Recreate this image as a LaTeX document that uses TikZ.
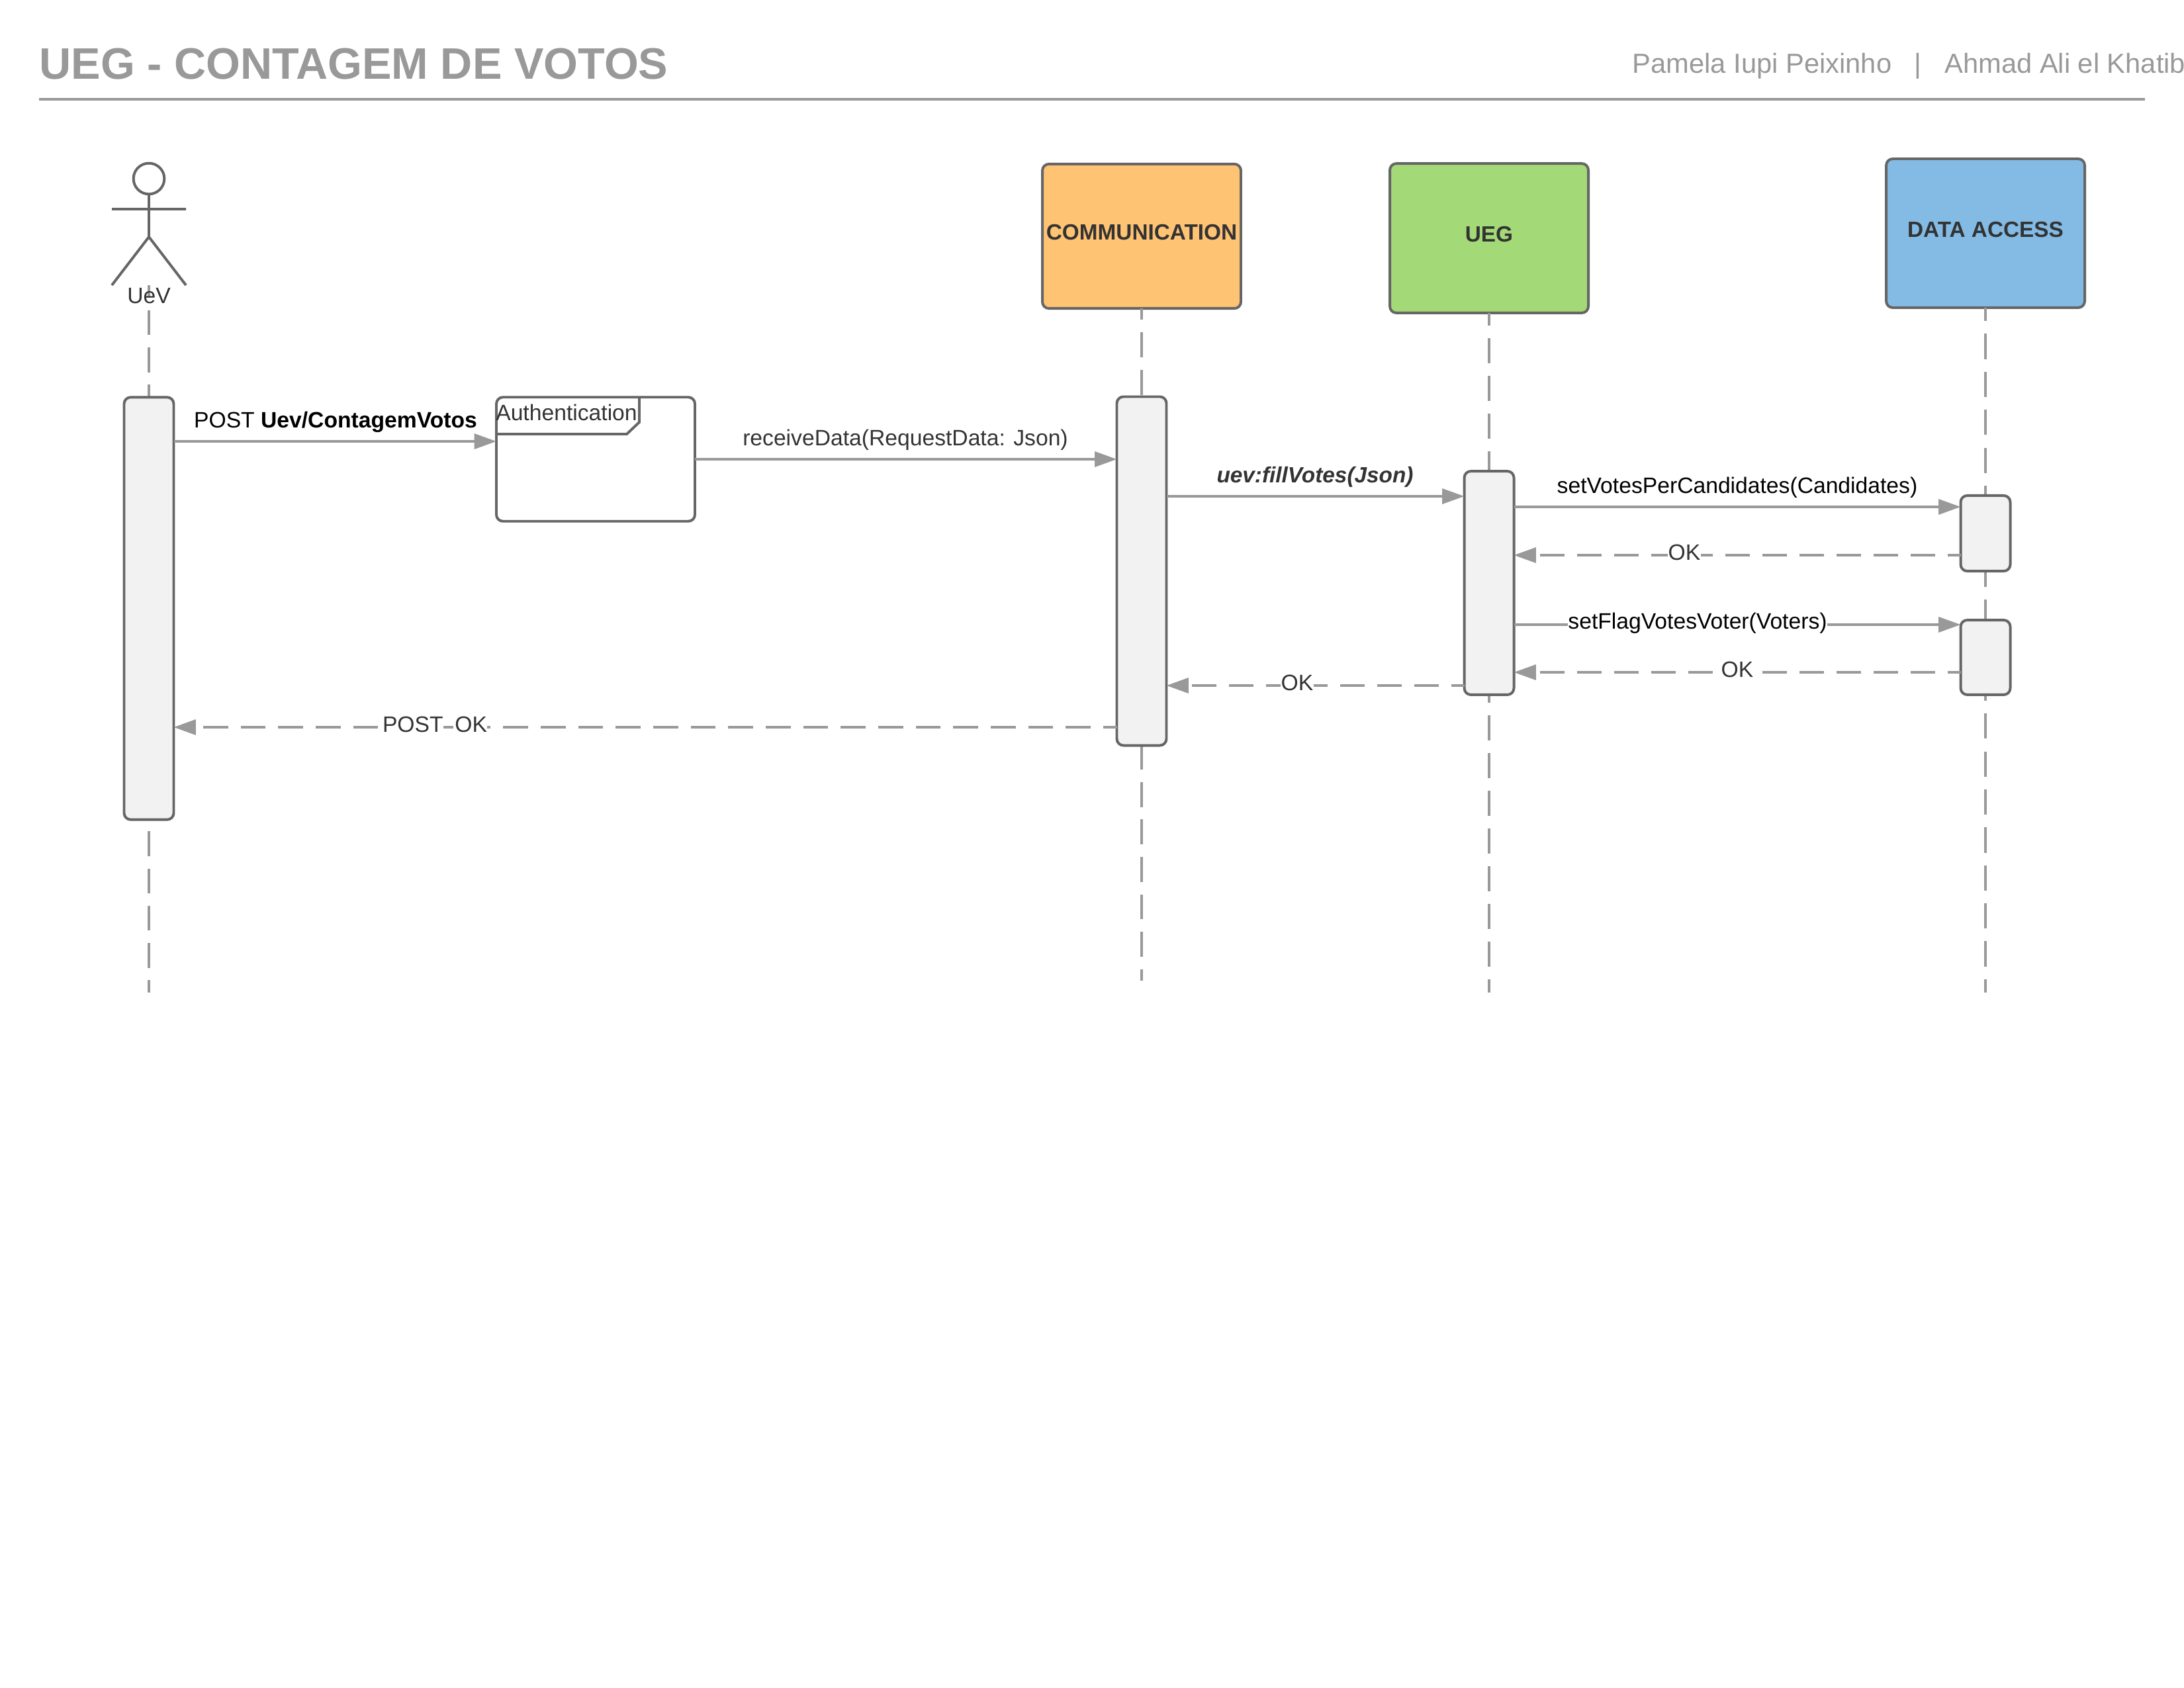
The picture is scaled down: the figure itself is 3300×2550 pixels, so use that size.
\documentclass[tikz,border=0pt]{standalone}
\usepackage{fontspec}
\setmainfont{Liberation Sans}
\usetikzlibrary{arrows.meta}
\definecolor{linecol}{HTML}{999999}
\definecolor{edgecol}{HTML}{666666}
\definecolor{textcol}{HTML}{333333}
\definecolor{barcol}{HTML}{F2F2F2}
\tikzset{
  headbox/.style = {draw = edgecol, line width = 0.95pt, rounded corners = 2.4pt, minimum width = 72pt, outer sep = 0pt},
  barbox/.style = {draw = edgecol, fill = barcol, line width = 0.95pt, rounded corners = 2.4pt, minimum width = 18pt, outer sep = 0pt},
  lifeline/.style = {draw = linecol, line width = 0.85pt},
  callarrow/.style = {draw = linecol, line width = 0.85pt, -{Triangle[length = 8pt, width = 5.5pt]}},
  backarrow/.style = {callarrow, dash pattern = on 8.88pt off 4.56pt, dash phase = 4.08pt},
  smalltext/.style = {font = \fontsize{8.08}{10}\selectfont, text = textcol, inner sep = 0pt},
  headtext/.style = {smalltext, font = \bfseries\fontsize{8}{10}\selectfont},
  gaptext/.style = {smalltext, fill = white, inner sep = 0.2pt},
}
\begin{document}
\begin{tikzpicture}[x = 0.24pt, y = -0.24pt]
\useasboundingbox (0, 0) rectangle (3300, 2550);
\definecolor{col}{HTML}{999999}
\node[anchor = west, text = col, inner sep = 0pt, font = \bfseries\fontsize{16}{20}\selectfont] (title) at (59, 97) {UEG - CONTAGEM DE VOTOS};
\node[anchor = west, text = col, inner sep = 0pt, font = \fontsize{10}{12}\selectfont] (authors) at (2466, 100) {Pamela Iupi Peixinho \ \ | \ \ Ahmad Ali el Khatib};
\coordinate (ruleleft) at (59, 150);
\coordinate (ruleright) at (3241, 150);
\draw[linecol, line width = 0.85pt] (ruleleft) -- (ruleright);
\coordinate (uevfoot) at (225, 431);
\coordinate (uevend) at (225, 1500);
\coordinate (commend) at (1725, 1482);
\coordinate (uegend) at (2250, 1500);
\coordinate (dataend) at (3000, 1500);
\definecolor{col}{HTML}{FFC374}
\node[headbox, fill = col, minimum height = 52.4pt] (comm) at (1725, 357) {};
\definecolor{col}{HTML}{A3D977}
\node[headbox, fill = col, minimum height = 54.2pt] (ueg) at (2250, 360) {};
\definecolor{col}{HTML}{83BBE5}
\node[headbox, fill = col, minimum height = 54pt] (data) at (3000, 352.5) {};
\draw[lifeline, dash pattern = on 9pt off 4.5pt, dash phase = 4.44pt] (uevfoot) -- (uevend);
\draw[lifeline, dash pattern = on 9.05pt off 4.54pt, dash phase = 4.92pt] (comm.south) -- (commend);
\draw[lifeline, dash pattern = on 9.12pt off 4.56pt, dash phase = 4.56pt] (ueg.south) -- (uegend);
\draw[lifeline, dash pattern = on 9.19pt off 4.58pt, dash phase = 4.32pt] (data.south) -- (dataend);
\node[draw = edgecol, line width = 0.95pt, circle, minimum size = 11.2pt, inner sep = 0pt, outer sep = 0pt] (uevhead) at (225, 270) {};
\coordinate (uevhip) at (225, 358);
\coordinate (armleft) at (169, 316);
\coordinate (armright) at (281, 316);
\coordinate (legleft) at (169, 431);
\coordinate (legright) at (281, 431);
\draw[edgecol, line width = 0.95pt] (uevhead.south) -- (uevhip) (armleft) -- (armright) (legleft) -- (uevhip) -- (legright);
\node[smalltext] (uevlabel) at (225, 447) {UeV};
\node[headtext] (commlabel) at (1725, 351) {COMMUNICATION};
\node[headtext] (ueglabel) at (2250, 354) {UEG};
\node[headtext] (datalabel) at (3000, 347) {DATA ACCESS};
\node[barbox, minimum height = 153.2pt] (uevbar) at (225, 919.5) {};
\node[barbox, minimum height = 126.5pt] (commbar) at (1725, 863) {};
\node[barbox, minimum height = 81.1pt] (uegbar) at (2250, 881) {};
\node[barbox, minimum height = 27.4pt] (databarone) at (3000, 806) {};
\node[barbox, minimum height = 27.1pt] (databartwo) at (3000, 993.5) {};
\node[draw = edgecol, line width = 0.95pt, rounded corners = 2.4pt, minimum width = 72pt, minimum height = 45pt, outer sep = 0pt] (auth) at (900, 694) {};
\coordinate (tabtop) at (966, 600);
\coordinate (tabside) at (966, 638);
\coordinate (tabcut) at (947, 656);
\coordinate (tableft) at (750, 656);
\draw[edgecol, line width = 0.95pt] (tabtop) -- (tabside) -- (tabcut) -- (tableft);
\node[smalltext] (authlabel) at (856, 623) {Authentication};
\draw[callarrow] (uevbar.east |- 0, 667) -- (auth.west |- 0, 667);
\node[smalltext, text = black] (postlabel) at (507, 638) {POST \textbf{Uev/ContagemVotos}};
\draw[callarrow] (auth.east |- 0, 694) -- (commbar.west |- 0, 694);
\node[smalltext] (receivelabel) at (1368, 665) {receiveData(RequestData: Json)};
\draw[callarrow] (commbar.east |- 0, 750) -- (uegbar.west |- 0, 750);
\node[smalltext, font = \bfseries\itshape\fontsize{8}{10}\selectfont] (filllabel) at (1987, 721) {uev:fillVotes(Json)};
\draw[callarrow] (uegbar.east |- 0, 766) -- (databarone.west |- 0, 766);
\node[smalltext, text = black] (votelabel) at (2625, 737) {setVotesPerCandidates(Candidates)};
\draw[backarrow] (databarone.west |- 0, 839) -- (uegbar.east |- 0, 839);
\node[gaptext] (okone) at (2545, 835) {OK};
\draw[callarrow] (uegbar.east |- 0, 944) -- (databartwo.west |- 0, 944);
\node[gaptext, text = black] (flaglabel) at (2565, 942) {setFlagVotesVoter(Voters)};
\draw[backarrow] (databartwo.west |- 0, 1016) -- (uegbar.east |- 0, 1016);
\node[gaptext] (oktwo) at (2625, 1012) {OK};
\draw[backarrow] (uegbar.west |- 0, 1036) -- (commbar.east |- 0, 1036);
\node[gaptext] (okthree) at (1960, 1032) {OK};
\draw[backarrow, dash pattern = on 9.02pt off 4.58pt] (commbar.west |- 0, 1099) -- (uevbar.east |- 0, 1099);
\node[smalltext] (postok) at (657, 1095) {\setlength{\fboxsep}{0pt}\colorbox{white}{POST}\hspace{2pt} \colorbox{white}{OK}};
\end{tikzpicture}
\end{document}
